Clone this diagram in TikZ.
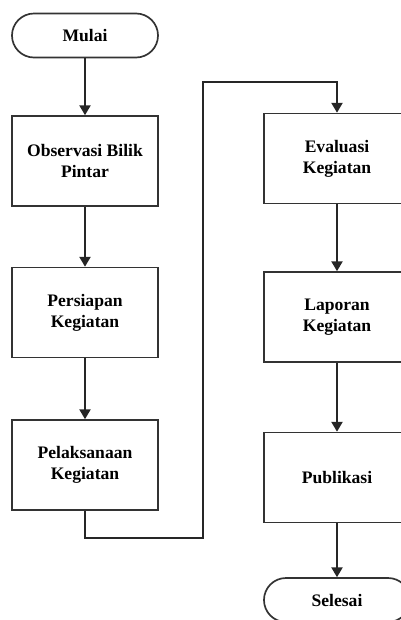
\documentclass[tikz,border=0pt]{standalone}
\usepackage{fontspec}
\setmainfont{Liberation Serif}
\usetikzlibrary{arrows.meta}

\begin{document}
\begin{tikzpicture}[x=0.025cm, y=-0.025cm]
\tikzset{boite/.style={draw=black!80, line width=1.2pt, minimum width=3.65cm, minimum height=2.25cm, align=center, font=\fontsize{12.5}{15}\selectfont\bfseries},
  terminal/.style={boite, rounded corners=0.55cm, minimum height=1.1cm},
  fleche/.style={draw=black!85, line width=1.2pt, -{Triangle[width=8pt, length=7pt]}}}
\clip (0, 0) rectangle (401, 620);
\node[terminal] (mulai) at (85, 35.5) {Mulai};
\node[boite] (obs) at (85, 161) {Observasi Bilik\\Pintar};
\node[boite] (pers) at (85, 312.5) {Persiapan\\Kegiatan};
\node[boite] (pel) at (85, 465) {Pelaksanaan\\Kegiatan};
\node[boite] (eval) at (337, 158.5) {Evaluasi\\Kegiatan};
\node[boite] (lap) at (337, 317) {Laporan\\Kegiatan};
\node[boite] (pub) at (337, 477.5) {Publikasi};
\node[terminal] (sel) at (337, 600) {Selesai};
\coordinate (B1) at (203, 538);
\coordinate (B2) at (203, 82);
\draw[fleche] (mulai) -- (obs);
\draw[fleche] (obs) -- (pers);
\draw[fleche] (pers) -- (pel);
\draw[fleche] (pel.south) |- (B1) -- (B2) -| (eval.north);
\draw[fleche] (eval) -- (lap);
\draw[fleche] (lap) -- (pub);
\draw[fleche] (pub) -- (sel);
\end{tikzpicture}
\end{document}
